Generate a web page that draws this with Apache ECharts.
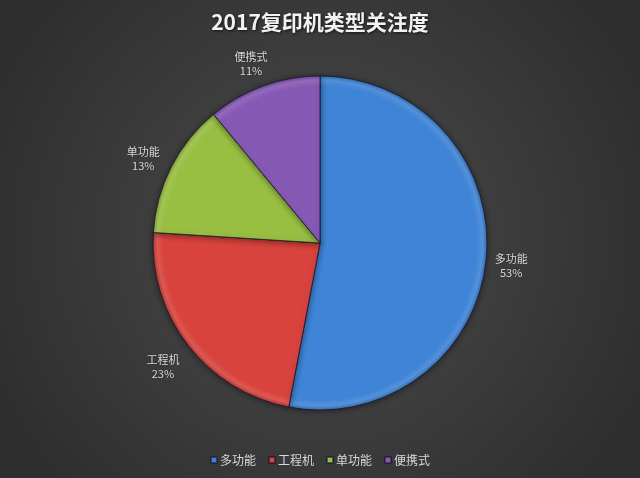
<!DOCTYPE html>
<html><head><meta charset="utf-8">
<script src="https://cdn.jsdelivr.net/npm/echarts@6/dist/echarts.min.js"></script>
<style>html,body{margin:0;padding:0;background:#3c3c3c}#c{width:640px;height:478px}</style>
</head><body><div id="c"></div>
<script>
const categories = ['多功能', '工程机', '单功能', '便携式'];
const values = [53, 23, 13, 11];
const colors = ['#3f84d6', '#d8433d', '#98bf42', '#8659b5'];
const titleText = '2017复印机类型关注度';

const CX = 320, CY = 243, R = 167;
function mix(c, t, k) {
  const a = echarts.color.parse(c), b = echarts.color.parse(t);
  return 'rgb(' + [0,1,2].map(j => Math.round(a[j] * (1 - k) + b[j] * k)).join(',') + ')';
}
function shade(c) {
  return {
    type: 'radial', x: CX, y: CY, r: R, global: true,
    colorStops: [
      {offset: 0, color: c},
      {offset: 0.94, color: c},
      {offset: 0.975, color: mix(c, '#ffffff', 0.12)},
      {offset: 1, color: mix(c, '#000000', 0.15)}
    ]
  };
}

const chart = echarts.init(document.getElementById('c'));
chart.setOption({
  backgroundColor: {
    type: 'radial', x: 0.5, y: 0.5, r: 0.75,
    colorStops: [{offset: 0, color: '#4c4c4c'}, {offset: 1, color: '#2e2e2e'}]
  },
  title: {
    text: titleText, left: 'center', top: 7,
    textStyle: {color: '#f2f2f2', fontSize: 21, fontWeight: 'bold', fontFamily: 'Noto Sans CJK SC',
      textShadowColor: 'rgba(0,0,0,0.7)', textShadowBlur: 3, textShadowOffsetX: 1, textShadowOffsetY: 1}
  },
  legend: {
    bottom: 7, left: 'center', icon: 'rect', itemWidth: 6, itemHeight: 6, itemGap: 12,
    textStyle: {color: '#d9d9d9', fontSize: 12, fontFamily: 'Noto Sans CJK SC', padding: [0,0,0,-2]},
    data: categories.map((n, i) => ({name: n, itemStyle: {color: colors[i]}}))
  },
  series: [{
    type: 'pie',
    center: [CX, CY], radius: R,
    startAngle: 90, clockwise: true,
    percentPrecision: 0,
    data: categories.map((n, i) => ({name: n, value: values[i], itemStyle: {color: shade(colors[i])}})),
    itemStyle: {borderColor: 'rgba(20,20,40,0.55)', borderWidth: 0.8, shadowColor: 'rgba(0,0,0,0.45)', shadowBlur: 6, shadowOffsetY: 1},
    label: {show: false},
    labelLine: {show: false},
    emphasis: {disabled: true},
    silent: true
  }, {
    type: 'pie',
    center: [317, 247], radius: [181, 203],
    startAngle: 90, clockwise: true,
    percentPrecision: 0,
    data: categories.map((n, i) => ({name: n, value: values[i]})),
    itemStyle: {color: 'rgba(0,0,0,0)'},
    label: {
      show: true, position: 'inside', formatter: '{b}\n{d}%', color: '#d9d9d9', fontSize: 11,
      fontFamily: 'Noto Sans CJK SC', lineHeight: 14, align: 'center', rotate: 0,
      textShadowColor: 'rgba(0,0,0,0.4)', textShadowBlur: 2
    },
    labelLine: {show: false},
    emphasis: {disabled: true},
    silent: true,
    legendHoverLink: false
  }]
});
</script></body></html>
